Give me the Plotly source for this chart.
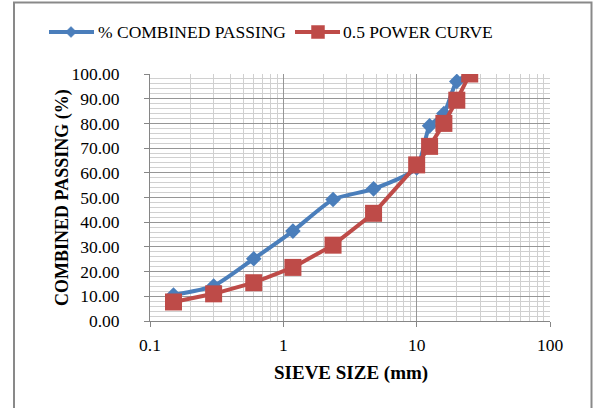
import plotly.graph_objects as go

# ---- data ----
sieve_sizes = [0.15, 0.3, 0.6, 1.18, 2.36, 4.75, 10, 12.5, 16, 20, 25]
combined_passing = [10.5, 14.2, 25.2, 36.4, 49.2, 53.5, 62.0, 79.0, 84.0, 97.0, 100.0]
power_curve = [7.7, 11.0, 15.5, 21.7, 30.7, 43.6, 63.2, 70.7, 80.0, 89.4, 100.0]

series_names = ["% COMBINED PASSING", "0.5 POWER CURVE"]
x_tick_vals = [0.1, 1, 10, 100]
x_tick_text = ["0.1", "1", "10", "100"]
x_minor_vals = [m * d for d in (0.1, 1, 10) for m in range(2, 10)]
y_tick_vals = list(range(0, 101, 10))
y_tick_text = [f"{v:.2f}" for v in y_tick_vals]

BLUE = "#4A7EBB"
RED = "#BE4B48"
FONT = "Liberation Serif"

W, H = 593, 408
L, R, T, B = 150, 43, 74, 87
PW, PH = W - L - R, H - T - B


def px_to_paper_x(px):
    return (px - L) / PW


def px_to_paper_y(py):
    return (H - B - py) / PH


fig = go.Figure()
fig.add_trace(go.Scatter(
    x=sieve_sizes, y=combined_passing, name=series_names[0],
    mode="lines+markers",
    line=dict(color=BLUE, width=4, shape="spline", smoothing=0.6),
    marker=dict(symbol="diamond", size=12, color=BLUE),
))
fig.add_trace(go.Scatter(
    x=sieve_sizes, y=power_curve, name=series_names[1],
    mode="lines+markers",
    line=dict(color=RED, width=4),
    marker=dict(symbol="square", size=17, color=RED),
))

# ---- manual legend (shapes + annotations in paper coordinates) ----
LEG_Y = 32
shapes = []
annotations = []


def legend_line(x0, x1, color):
    shapes.append(dict(type="line", xref="paper", yref="paper",
                       x0=px_to_paper_x(x0), x1=px_to_paper_x(x1),
                       y0=px_to_paper_y(LEG_Y), y1=px_to_paper_y(LEG_Y),
                       line=dict(color=color, width=4)))


def poly(points, color):
    path = "M " + " L ".join(f"{px_to_paper_x(a)},{px_to_paper_y(b)}" for a, b in points) + " Z"
    shapes.append(dict(type="path", xref="paper", yref="paper", path=path,
                       fillcolor=color, line=dict(color=color, width=0.5)))


legend_line(49, 94, BLUE)
cx = 71
poly([(cx - 5.5, LEG_Y), (cx, LEG_Y - 5.5), (cx + 5.5, LEG_Y), (cx, LEG_Y + 5.5)], BLUE)
annotations.append(dict(text=series_names[0], xref="paper", yref="paper",
                        x=px_to_paper_x(96), y=px_to_paper_y(LEG_Y),
                        xanchor="left", yanchor="middle", showarrow=False,
                        font=dict(family=FONT, size=17.5, color="#000")))

legend_line(295, 340, RED)
cx = 318
poly([(cx - 6.5, LEG_Y - 6.5), (cx + 6.5, LEG_Y - 6.5), (cx + 6.5, LEG_Y + 6.5), (cx - 6.5, LEG_Y + 6.5)], RED)
annotations.append(dict(text=series_names[1], xref="paper", yref="paper",
                        x=px_to_paper_x(341), y=px_to_paper_y(LEG_Y),
                        xanchor="left", yanchor="middle", showarrow=False,
                        font=dict(family=FONT, size=17.5, color="#000")))

annotations += [
    dict(text="<b>SIEVE SIZE (mm)</b>", xref="paper", yref="paper",
         x=px_to_paper_x(351), y=px_to_paper_y(373),
         xanchor="center", yanchor="middle", showarrow=False,
         font=dict(family=FONT, size=19)),
    dict(text="<b>COMBINED PASSING (%)</b>", xref="paper", yref="paper",
         x=px_to_paper_x(62), y=px_to_paper_y(198), textangle=-90,
         xanchor="center", yanchor="middle", showarrow=False,
         font=dict(family=FONT, size=18)),
]

shapes.append(dict(type="rect", xref="paper", yref="paper",
                   x0=px_to_paper_x(14), x1=px_to_paper_x(591.5),
                   y0=px_to_paper_y(430), y1=px_to_paper_y(2.5),
                   line=dict(color="#898989", width=2), fillcolor="rgba(0,0,0,0)",
                   layer="above"))

fig.update_layout(
    width=W, height=H,
    margin=dict(l=L, r=R, t=T, b=B, autoexpand=False),
    paper_bgcolor="white", plot_bgcolor="white",
    font=dict(family=FONT, size=18, color="#000000"),
    showlegend=False,
    xaxis=dict(
        type="log", range=[-1, 2],
        tickvals=x_tick_vals, ticktext=x_tick_text,
        ticks="outside", ticklen=5, tickcolor="#868686",
        showline=True, linecolor="#868686", linewidth=1,
        showgrid=True, gridcolor="#969696", gridwidth=1,
        minor=dict(tickvals=x_minor_vals, showgrid=True,
                   gridcolor="#d0d0d0", gridwidth=1),
        tickfont=dict(family=FONT, size=17.5),
        ticklabelstandoff=3,
        zeroline=False, automargin=False,
    ),
    yaxis=dict(
        range=[0, 100],
        tickvals=y_tick_vals, ticktext=y_tick_text,
        ticks="outside", ticklen=5, tickcolor="#868686",
        showline=True, linecolor="#868686", linewidth=1,
        showgrid=True, gridcolor="#969696", gridwidth=1,
        minor=dict(dtick=2, showgrid=True, gridcolor="#d0d0d0", gridwidth=1),
        tickfont=dict(family=FONT, size=17.5),
        ticklabelstandoff=21,
        zeroline=False, automargin=False,
    ),
    annotations=annotations,
    shapes=shapes,
)

fig.write_html("out.html",
               config={"displayModeBar": False},
               post_script="document.body.style.margin='0';document.body.style.padding='0';")
